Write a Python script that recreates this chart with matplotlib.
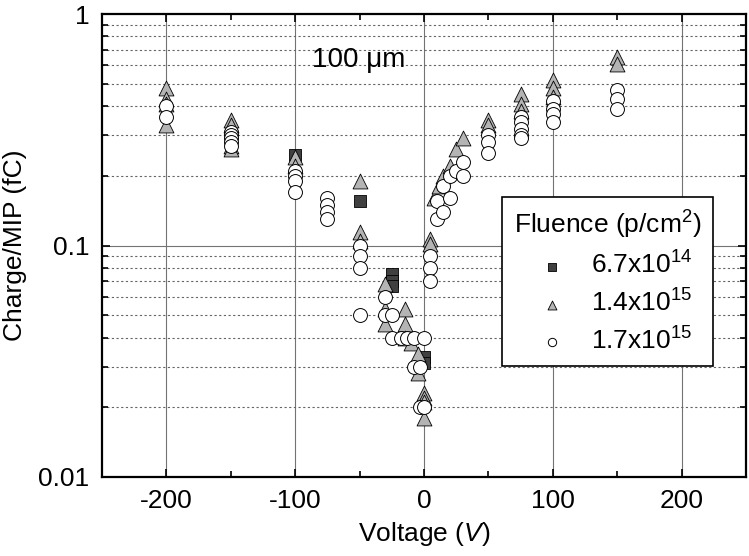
import numpy as np
import matplotlib
matplotlib.use("Agg")
import matplotlib.pyplot as plt
from matplotlib.ticker import FixedLocator, LogLocator, NullFormatter

plt.rcParams["font.family"] = ["Liberation Sans", "DejaVu Sans"]
plt.rcParams["mathtext.fontset"] = "custom"
plt.rcParams["mathtext.rm"] = "Liberation Sans"
plt.rcParams["mathtext.it"] = "Liberation Sans:italic"
plt.rcParams["axes.unicode_minus"] = False

# --- data ------------------------------------------------------------------
sq_v = [-100, -50, -25, -25, -25, 0, 0]
sq_q = [0.245, 0.155, 0.075, 0.070, 0.067, 0.033, 0.031]

tri_v = [-200, -200, -200, -200,
         -150, -150, -150, -150,
         -100, -100,
         -50, -50, -50,
         -30, -30, -30,
         -15, -15, -15,
         -10, -5, -5,
         0, 0, 0, 0,
         5, 5,
         8, 12, 15, 20, 25, 30,
         50, 50,
         75, 75, 75,
         100, 100, 100,
         150, 150]
tri_q = [0.48, 0.43, 0.41, 0.33,
         0.35, 0.33, 0.27, 0.26,
         0.24, 0.22,
         0.19, 0.114, 0.105,
         0.068, 0.053, 0.046,
         0.053, 0.046, 0.040,
         0.038, 0.034, 0.028,
         0.023, 0.022, 0.021, 0.018,
         0.107, 0.102,
         0.16, 0.18, 0.20, 0.22, 0.26, 0.29,
         0.35, 0.33,
         0.45, 0.41, 0.38,
         0.52, 0.48, 0.44,
         0.65, 0.61]

circ_v = [-200, -200,
          -150, -150, -150, -150, -150,
          -100, -100, -100, -100,
          -75, -75, -75, -75,
          -50, -50, -50, -50,
          -30, -30,
          -25, -25,
          -18, -13, -8, -8, -3, -3,
          0, 0,
          5, 5, 5,
          10, 10, 15, 15, 20, 20, 25, 30, 30,
          50, 50, 50,
          75, 75, 75, 75, 75,
          100, 100, 100, 100,
          150, 150, 150]
circ_q = [0.40, 0.36,
          0.31, 0.30, 0.29, 0.28, 0.27,
          0.21, 0.20, 0.19, 0.17,
          0.16, 0.15, 0.14, 0.13,
          0.10, 0.09, 0.08, 0.05,
          0.06, 0.05,
          0.05, 0.04,
          0.04, 0.04, 0.04, 0.03, 0.03, 0.02,
          0.04, 0.02,
          0.09, 0.08, 0.07,
          0.155, 0.13, 0.18, 0.14, 0.20, 0.16, 0.21, 0.23, 0.20,
          0.30, 0.28, 0.25,
          0.36, 0.34, 0.32, 0.30, 0.29,
          0.42, 0.39, 0.37, 0.34,
          0.47, 0.43, 0.39]

labels = ["6.7x10$^{14}$", "1.4x10$^{15}$", "1.7x10$^{15}$"]

# --- figure ------------------------------------------------------------------
fig = plt.figure(figsize=(7.49, 5.56), dpi=100)
ax = fig.add_axes([102 / 749, 1 - 477 / 556, 644 / 749, 463 / 556])

ax.set_xlim(-250, 250)
ax.set_yscale("log")
ax.set_ylim(0.01, 1)

# grid: solid majors, dotted minor horizontals
for v in (-200, -100, 0, 100, 200):
    ax.axvline(v, color="0.45", lw=0.8, zorder=1)
ax.axhline(0.1, color="0.45", lw=0.8, zorder=1)
for dec in (0.01, 0.1):
    for m in range(2, 10):
        ax.axhline(dec * m, color="0.4", lw=0.8, ls=(0, (2, 2.2)), zorder=1)

ax.scatter(sq_v, sq_q, marker="s", s=80, facecolor="#404040", edgecolor="black",
           linewidths=0.6, zorder=3, label=labels[0])
ax.scatter(tri_v, tri_q, marker="^", s=115, facecolor="#b4b4b4", edgecolor="black",
           linewidths=0.6, zorder=4, label=labels[1])
ax.scatter(circ_v, circ_q, marker="o", s=100, facecolor="white", edgecolor="black",
           linewidths=0.7, zorder=5, label=labels[2])

ax.xaxis.set_major_locator(FixedLocator([-200, -100, 0, 100, 200]))
ax.xaxis.set_minor_locator(FixedLocator([-150, -50, 50, 150]))
ax.yaxis.set_major_locator(FixedLocator([0.01, 0.1, 1]))
ax.yaxis.set_minor_locator(LogLocator(base=10, subs=np.arange(2, 10)))
ax.yaxis.set_minor_formatter(NullFormatter())
ax.set_yticklabels(["0.01", "0.1", "1"])

ax.tick_params(which="both", direction="in", top=True, right=True,
               labelsize=19, width=1.2, colors="black")
ax.tick_params(which="major", length=6, pad=9)
ax.tick_params(which="minor", length=4)
for sp in ax.spines.values():
    sp.set_linewidth(1.6)

ax.set_xlabel("Voltage ($\\it{V}$)", fontsize=19, labelpad=5)
ax.set_ylabel("Charge/MIP (fC)", fontsize=19, labelpad=8)

ax.text(-87, 0.63, "100 \u03bcm", fontsize=20, ha="left", va="center", zorder=6)

leg = ax.legend(title="Fluence (p/cm$^2$)", loc="upper left",
                bbox_to_anchor=(502 / 749, 1 - 197 / 556),
                bbox_transform=fig.transFigure, borderaxespad=0,
                fontsize=19, title_fontsize=19,
                markerscale=0.6, fancybox=False, framealpha=1,
                edgecolor="black", handletextpad=0.35, labelspacing=0.4,
                borderpad=0.45, handlelength=2.2)
leg.get_frame().set_linewidth(1.2)
leg.set_zorder(10)

fig.savefig("out.png", dpi=100)
